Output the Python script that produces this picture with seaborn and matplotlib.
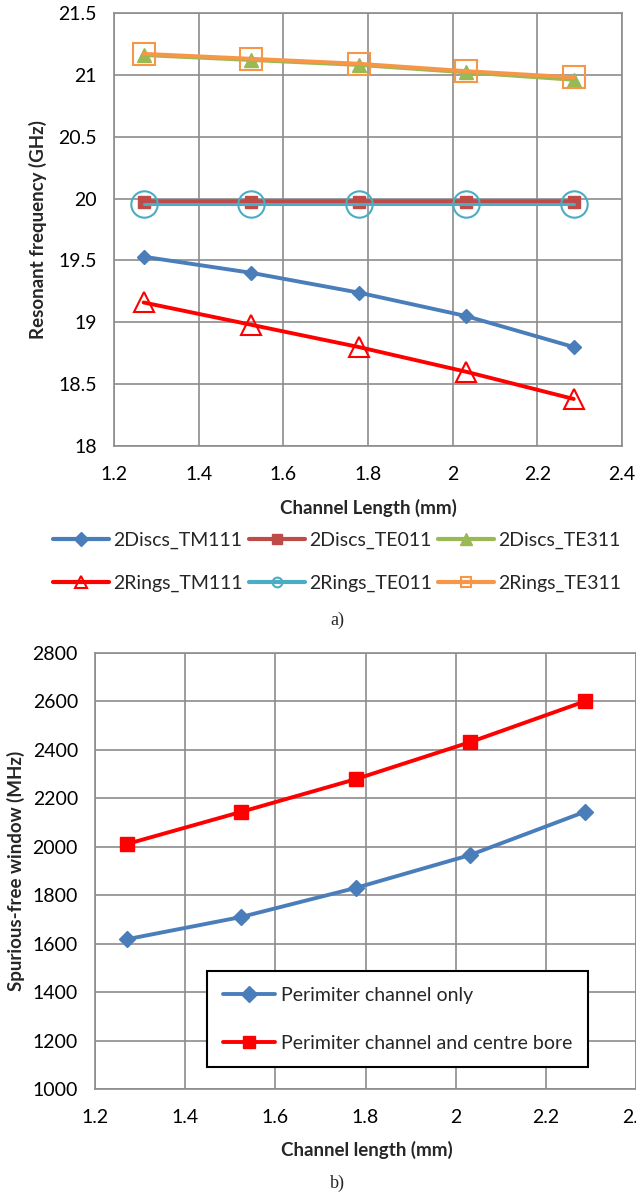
import numpy as np
import pandas as pd
import matplotlib
matplotlib.use("Agg")
import matplotlib.pyplot as plt
from matplotlib.lines import Line2D
from matplotlib.ticker import FuncFormatter, MultipleLocator
import seaborn as sns

# ---------------- data ----------------
channel_length = [1.27, 1.524, 1.778, 2.032, 2.286]

discs_tm111 = [19.53, 19.40, 19.24, 19.05, 18.80]
discs_te011 = [19.97, 19.97, 19.97, 19.97, 19.97]
discs_te311 = [21.16, 21.12, 21.08, 21.02, 20.96]
rings_tm111 = [19.16, 18.98, 18.80, 18.60, 18.38]
rings_te011 = [19.96, 19.96, 19.96, 19.96, 19.96]
rings_te311 = [21.17, 21.13, 21.09, 21.03, 20.98]

perim_only = [1618, 1710, 1830, 1966, 2144]
perim_bore = [2011, 2144, 2279, 2432, 2600]

top_labels = ["2Discs_TM111", "2Discs_TE011", "2Discs_TE311",
              "2Rings_TM111", "2Rings_TE011", "2Rings_TE311"]
bottom_labels = ["Perimiter channel only", "Perimiter channel and centre bore"]

# ---------------- style ----------------
sns.set_style("white")
plt.rcParams["font.family"] = ["Lato", "DejaVu Sans"]
GRID = "#8c8c8c"

fig = plt.figure(figsize=(6.36, 11.95), dpi=100)
ax1 = fig.add_axes([114 / 636, (1195 - 446) / 1195, 508 / 636, 433 / 1195])
ax2 = fig.add_axes([95 / 636, (1195 - 1089) / 1195, 541 / 636, 436 / 1195])

fmt = FuncFormatter(lambda v, p: f"{round(v, 3):g}")

top_styles = [
    dict(color="#4a7ebb", marker="D", markersize=7, mfc="#4a7ebb", mec="#4a7ebb", mew=1, lw=2.8),
    dict(color="#be4b48", marker="s", markersize=9, mfc="#be4b48", mec="#be4b48", mew=1, lw=4.0),
    dict(color="#98b954", marker="^", markersize=10, mfc="#98b954", mec="#98b954", mew=1, lw=2.8),
    dict(color="#ff0000", marker="^", markersize=15, mfc="none", mec="#ff0000", mew=1.5, lw=2.8),
    dict(color="#4aacc5", marker="o", markersize=19, mfc="none", mec="#4aacc5", mew=1.5, lw=2.2),
    dict(color="#f79646", marker="s", markersize=16, mfc="none", mec="#f79646", mew=1.5, lw=2.8),
]
top_series = [discs_tm111, discs_te011, discs_te311, rings_tm111, rings_te011, rings_te311]

for vals, lab, st in zip(top_series, top_labels, top_styles):
    df = pd.DataFrame({"x": channel_length, "y": vals})
    sns.lineplot(data=df, x="x", y="y", ax=ax1, label=lab, legend=False, **st)

ax1.set_xlim(1.2, 2.4)
ax1.set_ylim(18, 21.5)
ax1.xaxis.set_major_locator(MultipleLocator(0.2))
ax1.yaxis.set_major_locator(MultipleLocator(0.5))

bottom_styles = [
    dict(color="#4a7ebb", marker="D", markersize=8, mfc="#4a7ebb", mec="#4a7ebb", mew=1, lw=2.8),
    dict(color="#ff0000", marker="s", markersize=10, mfc="#ff0000", mec="#ff0000", mew=1, lw=2.8),
]
for vals, lab, st in zip([perim_only, perim_bore], bottom_labels, bottom_styles):
    df = pd.DataFrame({"x": channel_length, "y": vals})
    sns.lineplot(data=df, x="x", y="y", ax=ax2, label=lab, legend=False, **st)

ax2.set_xlim(1.2, 2.4)
ax2.set_ylim(1000, 2800)
ax2.xaxis.set_major_locator(MultipleLocator(0.2))
ax2.yaxis.set_major_locator(MultipleLocator(200))

for ax in (ax1, ax2):
    ax.xaxis.set_major_formatter(fmt)
    ax.yaxis.set_major_formatter(fmt)
    ax.grid(True, color=GRID, lw=1.2)
    ax.set_axisbelow(True)
    for sp in ax.spines.values():
        sp.set_color(GRID)
        sp.set_linewidth(1.2)
    ax.tick_params(axis="both", direction="out", length=4.3, width=1.2, color=GRID,
                   labelsize=14, labelcolor="black", pad=8)
ax1.tick_params(axis="x", pad=10)
ax2.tick_params(axis="x", pad=10)

# axis labels
ax1.set_xlabel("Channel Length (mm)", fontsize=13.5, fontweight="bold")
ax1.xaxis.set_label_coords(0.5, (446 - 508) / 433)
ax1.xaxis.label.set_va("center")
ax1.set_ylabel("Resonant frequency (GHz)", fontsize=13.5, fontweight="bold")
ax1.yaxis.set_label_coords((38 - 114) / 508, 0.5)
ax1.yaxis.label.set_va("center")

ax2.set_xlabel("Channel length (mm)", fontsize=13.5, fontweight="bold")
ax2.xaxis.set_label_coords((367 - 95) / 541, (1089 - 1150) / 436)
ax2.xaxis.label.set_va("center")
ax2.set_ylabel("Spurious-free window (MHz)", fontsize=13.5, fontweight="bold")
ax2.yaxis.set_label_coords((16 - 95) / 541, 0.5)
ax2.yaxis.label.set_va("center")

# top legend (proxy handles with legend-sized markers)
leg_sizes = [7, 7, 8, 8, 7, 7]
proxies = []
for st, ms in zip(top_styles, leg_sizes):
    s = dict(st)
    s["markersize"] = ms
    s["lw"] = 3
    proxies.append(Line2D([], [], **s))
order = [0, 3, 1, 4, 2, 5]
fig.legend([proxies[i] for i in order], [top_labels[i] for i in order],
           ncol=3, loc="center", bbox_to_anchor=(337 / 636, 1 - 562 / 1195),
           frameon=False, fontsize=14, handlelength=2.9, handletextpad=0.2,
           columnspacing=0.3, labelspacing=1.35, borderpad=0)

# bottom legend
leg2 = ax2.legend(loc="upper left", bbox_to_anchor=((207 - 95) / 541, (1089 - 971) / 436),
                  fontsize=14, frameon=True, fancybox=False, edgecolor="black",
                  framealpha=1, handlelength=2.7, handletextpad=0.3,
                  labelspacing=1.6, borderpad=0.8, borderaxespad=0)
leg2.get_frame().set_linewidth(1.5)
for h in leg2.legend_handles:
    h.set_markersize(8)

# captions
fig.text(337 / 636, 1 - 620 / 1195, "a)", ha="center", va="center",
         fontsize=13, family=["Liberation Serif"])
fig.text(337 / 636, 1 - 1183 / 1195, "b)", ha="center", va="center",
         fontsize=13, family=["Liberation Serif"])

fig.savefig("out.png", dpi=100)
